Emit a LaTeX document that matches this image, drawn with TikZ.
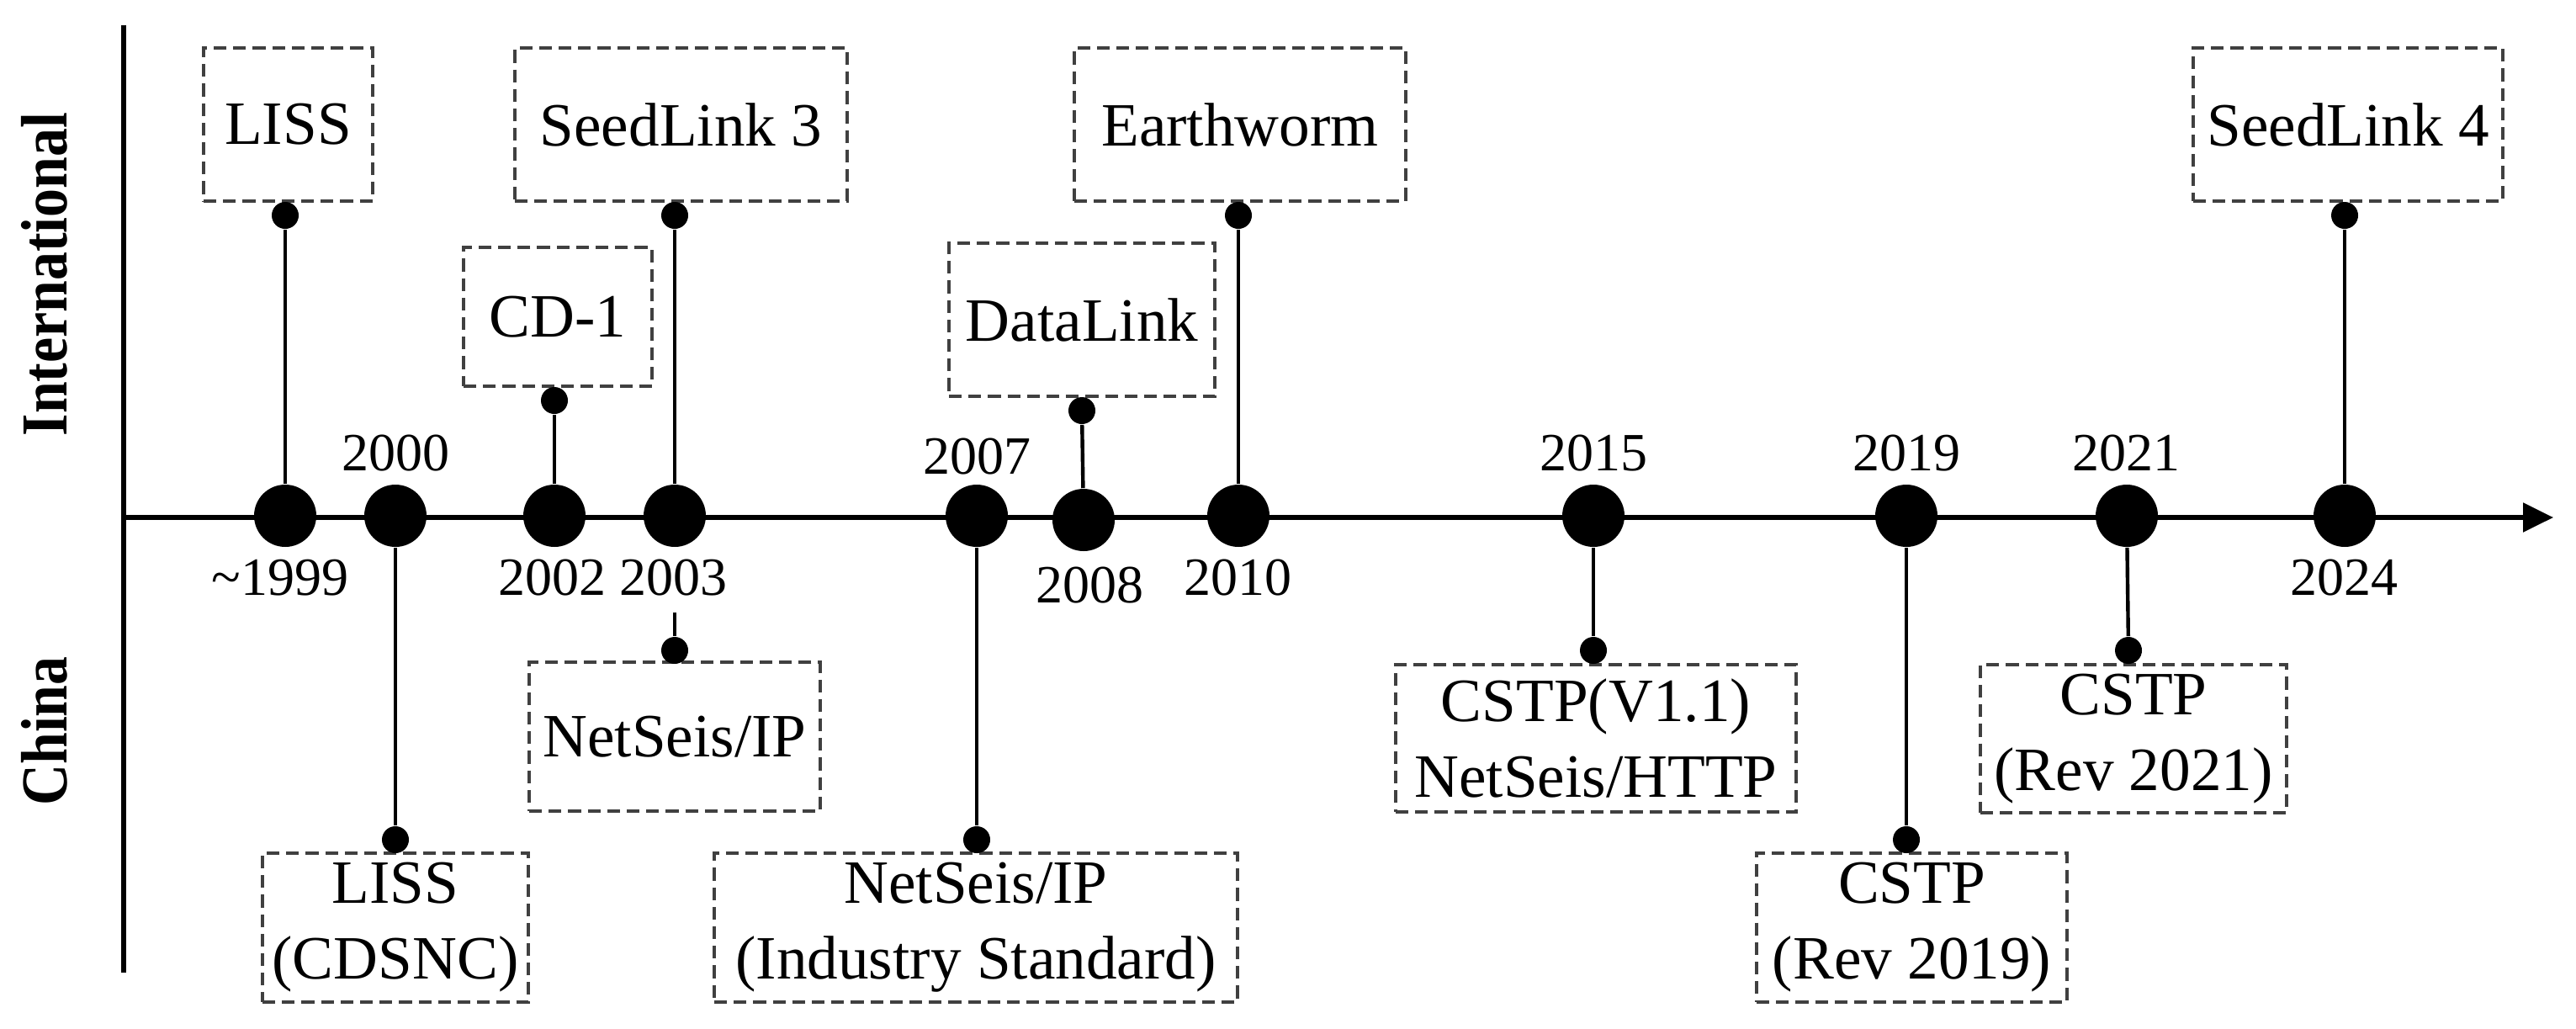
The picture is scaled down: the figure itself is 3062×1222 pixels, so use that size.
\documentclass[tikz,border=0pt]{standalone}
\usepackage{fontspec}
\setmainfont{Liberation Serif}
\usetikzlibrary{arrows.meta}
\begin{document}
\begin{tikzpicture}[x=0.25pt,y=-0.25pt,
  box/.style={draw=black!75, dash pattern=on 3.8pt off 2pt, line width=0.8pt, inner sep=0pt, align=center,
    font=\fontsize{18.3}{22.5}\selectfont},
  bigdot/.style={circle, fill=black, inner sep=0pt, minimum size=18.5pt},
  smalldot/.style={circle, fill=black, inner sep=0pt, minimum size=8pt},
  conn/.style={line width=1.1pt, black},
  axisline/.style={line width=1.35pt, black},
  year/.style={inner sep=0pt, font=\fontsize{16}{19}\selectfont},
  side/.style={inner sep=0pt, rotate=90, font=\fontsize{19.5}{22}\selectfont\bfseries}
]
\useasboundingbox (0,0) rectangle (3062,1222);

% axes
\coordinate (vtop) at (147,30);
\coordinate (vbot) at (147,1156);
\draw[line width=1.3pt] (vtop) -- (vbot);
\coordinate (axstart) at (147,615);
\coordinate (axend) at (3035,615);
\draw[axisline,-{Triangle[length=9pt,width=8.5pt]}] (axstart) -- (axend);

% side labels
\node[side] (intl) at (53,326) {\scalebox{0.87}[1]{International}};
\node[side] (china) at (53,869) {\scalebox{0.87}[1]{China}};

% big dots
\node[bigdot] (d1999) at (339,613) {};
\node[bigdot] (d2000) at (470,613) {};
\node[bigdot] (d2002) at (659,613) {};
\node[bigdot] (d2003) at (802,613) {};
\node[bigdot] (d2007) at (1161,613) {};
\node[bigdot] (d2008) at (1288,618) {};
\node[bigdot] (d2010) at (1472,613) {};
\node[bigdot] (d2015) at (1894,613) {};
\node[bigdot] (d2019) at (2266,613) {};
\node[bigdot] (d2021) at (2528,613) {};
\node[bigdot] (d2024) at (2787,613) {};

% year labels
\node[year] (y1999) at (333,687) {\textasciitilde1999};
\node[year] (y2000) at (470,539) {2000};
\node[year] (y2002) at (656,687) {2002};
\node[year] (y2003) at (800,687) {2003};
\node[year] (y2007) at (1161,543) {2007};
\node[year] (y2008) at (1295,696) {2008};
\node[year] (y2010) at (1471,687) {2010};
\node[year] (y2015) at (1894,539) {2015};
\node[year] (y2019) at (2266,539) {2019};
\node[year] (y2021) at (2527,539) {2021};
\node[year] (y2024) at (2786,687) {2024};

% international boxes
\node[box, minimum width=50.25pt, minimum height=45.5pt] (bliss) at (342.5,148) {LISS};
\node[box, minimum width=98.75pt, minimum height=45.5pt] (bsl3) at (809.5,148) {SeedLink 3};
\node[box, minimum width=56pt, minimum height=41.25pt] (bcd1) at (663,376.5) {CD-1};
\node[box, minimum width=79pt, minimum height=45.5pt] (bdl) at (1286,380) {DataLink};
\node[box, minimum width=98.5pt, minimum height=45.5pt] (bew) at (1474,148) {Earthworm};
\node[box, minimum width=92pt, minimum height=45.5pt] (bsl4) at (2791,148) {SeedLink 4};

% china boxes
\node[box, minimum width=86.5pt, minimum height=44.25pt] (bnip) at (802,875.5) {NetSeis/IP};
\node[box, minimum width=79pt, minimum height=44.25pt] (blc) at (470,1102.5) {LISS\\(CDSNC)};
\node[box, minimum width=155.5pt, minimum height=44.25pt] (bnis) at (1160,1102.5) {NetSeis/IP\\(Industry Standard)};
\node[box, minimum width=119pt, minimum height=43.75pt] (bcv) at (1897,877.5) {CSTP(V1.1)\\NetSeis/HTTP};
\node[box, minimum width=92.25pt, minimum height=44.25pt] (bc19) at (2272.5,1102.5) {CSTP\\(Rev 2019)};
\node[box, minimum width=91pt, minimum height=44pt] (bc21) at (2536,878) {CSTP\\(Rev 2021)};

% small dots
\node[smalldot] (sliss) at (339,256) {};
\node[smalldot] (scd1) at (659,476) {};
\node[smalldot] (ssl3) at (802,256) {};
\node[smalldot] (sdl) at (1286,488) {};
\node[smalldot] (sew) at (1472,256) {};
\node[smalldot] (ssl4) at (2787,256) {};
\node[smalldot] (slc) at (470,998) {};
\node[smalldot] (snip) at (802,773) {};
\node[smalldot] (snis) at (1161,998) {};
\node[smalldot] (scv) at (1894,773) {};
\node[smalldot] (sc19) at (2266,998) {};
\node[smalldot] (sc21) at (2530,773) {};
\coordinate (c2003) at (802,728);

% connectors
\draw[conn] (d1999) -- (sliss);
\draw[conn] (d2002) -- (scd1);
\draw[conn] (d2003) -- (ssl3);
\draw[conn] (d2008) -- (sdl);
\draw[conn] (d2010) -- (sew);
\draw[conn] (d2024) -- (ssl4);
\draw[conn] (d2000) -- (slc);
\draw[conn] (c2003) -- (snip);
\draw[conn] (d2007) -- (snis);
\draw[conn] (d2015) -- (scv);
\draw[conn] (d2019) -- (sc19);
\draw[conn] (d2021) -- (sc21);
\end{tikzpicture}
\end{document}
